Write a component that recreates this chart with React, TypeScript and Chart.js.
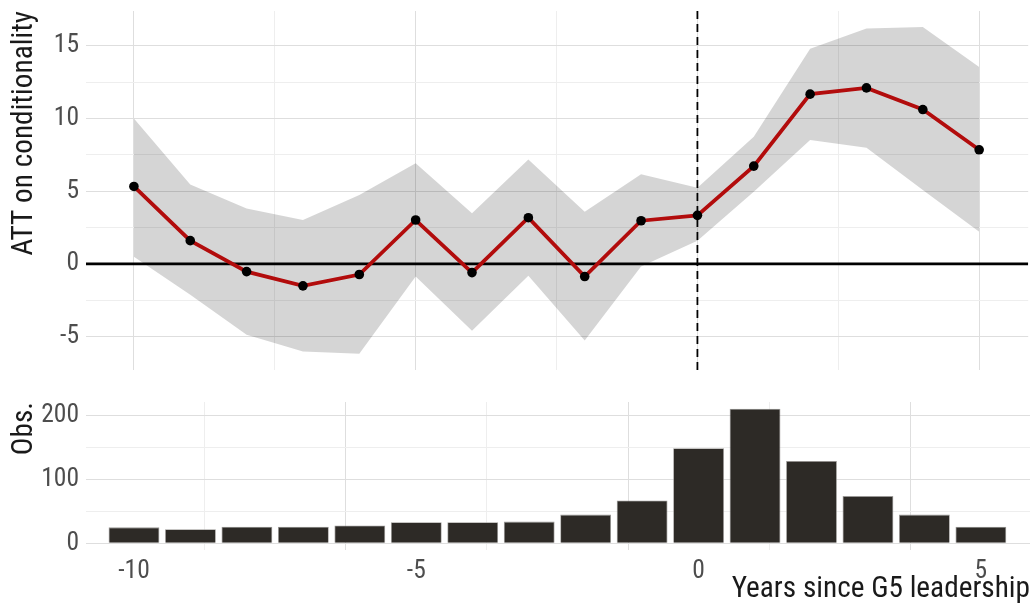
import React, { useEffect, useRef } from "react";
import { Chart, registerables } from "chart.js";

Chart.register(...registerables);

// ---------- data ----------
const years = [-10, -9, -8, -7, -6, -5, -4, -3, -2, -1, 0, 1, 2, 3, 4, 5];
const att = [5.33, 1.6, -0.53, -1.51, -0.73, 3.02, -0.6, 3.18, -0.87, 2.97, 3.34, 6.73, 11.68, 12.11, 10.62, 7.85];
const ciUpper = [10.0, 5.47, 3.82, 3.02, 4.74, 6.92, 3.48, 7.19, 3.59, 6.16, 5.24, 8.74, 14.81, 16.19, 16.3, 13.55];
const ciLower = [0.5, -2.13, -4.88, -6.02, -6.18, -0.87, -4.6, -0.82, -5.27, -0.18, 1.6, 4.97, 8.52, 7.99, 5.08, 2.22];
const obs = [25, 22, 26, 26, 28, 33, 33, 34, 45, 67, 149, 211, 129, 74, 45, 26];

const xTicks = [-10, -7.5, -5, -2.5, 0, 2.5, 5];
const attTicks = [-5, -2.5, 0, 2.5, 5, 7.5, 10, 12.5, 15];
const obsTicks = [0, 50, 100, 150, 200];

const X_MIN = -10.85;
const X_MAX = 5.87;
const ATT_MIN = -7.3;
const ATT_MAX = 17.4;
const OBS_MIN = -10.5;
const OBS_MAX = 221.5;
const TREATMENT_YEAR = 0;
const REFERENCE_ATT = 0;

// ---------- style ----------
const FONT = "'Roboto Condensed', 'Liberation Sans Narrow', 'DejaVu Sans Condensed', Roboto, sans-serif";
const TICK_COLOR = "#4d4d4d";
const TITLE_COLOR = "#1a1a1a";
const MAJOR = "#dedede";
const MINOR = "#eeeeee";
const TICK_SIZE = 25.5;
const TITLE_SIZE = 29.3;

const gridColor = (major: number) => (ctx: any) =>
  ctx.tick && Math.abs(ctx.tick.value % major) < 1e-9 ? MAJOR : MINOR;

const setTicks = (vals: number[]) => (axis: any) => {
  axis.ticks = vals.map((v) => ({ value: v }));
};

const fixSize = (w: number | null, h: number | null) => (a: any) => {
  if (w !== null) a.width = w;
  if (h !== null) a.height = h;
  a.paddingTop = 0;
  a.paddingBottom = 0;
  a.paddingLeft = 0;
  a.paddingRight = 0;
};

export default function App() {
  const topRef = useRef<HTMLCanvasElement | null>(null);
  const botRef = useRef<HTMLCanvasElement | null>(null);

  useEffect(() => {
    const xy = (ys: number[]) => years.map((x, i) => ({ x, y: ys[i] }));

    const top = new Chart(topRef.current!, {
      type: "line",
      data: {
        datasets: [
          {
            label: "upper",
            data: xy(ciUpper),
            borderWidth: 0,
            borderColor: "rgba(0,0,0,0)",
            pointRadius: 0,
            fill: "+1",
            backgroundColor: "rgba(0,0,0,0.165)",
            order: 10,
          },
          {
            label: "lower",
            data: xy(ciLower),
            borderWidth: 0,
            borderColor: "rgba(0,0,0,0)",
            pointRadius: 0,
            fill: false,
            order: 10,
          },
          {
            label: "zero",
            data: [
              { x: X_MIN, y: REFERENCE_ATT },
              { x: X_MAX, y: REFERENCE_ATT },
            ],
            borderColor: "#000",
            borderWidth: 2.6,
            pointRadius: 0,
            fill: false,
            order: 5,
          },
          {
            label: "treatment",
            data: [
              { x: TREATMENT_YEAR, y: ATT_MIN },
              { x: TREATMENT_YEAR, y: ATT_MAX },
            ],
            borderColor: "#000",
            borderWidth: 1.8,
            borderDash: [8, 5],
            pointRadius: 0,
            fill: false,
            order: 4,
          },
          {
            label: "ATT",
            data: xy(att),
            borderColor: "#b20c0c",
            borderWidth: 3.8,
            pointRadius: 4.8,
            pointBackgroundColor: "#000",
            pointBorderColor: "#000",
            pointBorderWidth: 0,
            fill: false,
            order: 1,
          },
        ],
      } as any,
      options: {
        animation: false,
        responsive: false,
        maintainAspectRatio: false,
        layout: { padding: { top: 11, right: 3, left: 0, bottom: 10 } },
        plugins: { legend: { display: false }, tooltip: { enabled: false } },
        scales: {
          x: {
            type: "linear",
            min: X_MIN,
            max: X_MAX,
            afterBuildTicks: setTicks(xTicks),
            afterFit: fixSize(null, 0),
            ticks: { display: false },
            grid: { color: gridColor(5), lineWidth: 1, drawTicks: false },
            border: { display: false },
          },
          y: {
            type: "linear",
            min: ATT_MIN,
            max: ATT_MAX,
            afterBuildTicks: setTicks(attTicks),
            afterFit: fixSize(86, null),
            ticks: {
              color: TICK_COLOR,
              font: { family: FONT, size: TICK_SIZE },
              padding: 7,
              callback: (v: any) => (Number(v) % 5 === 0 ? String(v) : ""),
            },
            grid: { color: gridColor(5), lineWidth: 1, drawTicks: false },
            border: { display: false },
            title: {
              display: true,
              text: "ATT on conditionality",
              align: "end",
              color: TITLE_COLOR,
              font: { family: FONT, size: TITLE_SIZE },
              padding: { top: 7.5, bottom: 0 },
            },
          },
        },
      } as any,
    });

    const bot = new Chart(botRef.current!, {
      type: "bar",
      data: {
        datasets: [
          {
            label: "Obs.",
            data: xy(obs),
            backgroundColor: "#2d2a26",
            borderColor: "#9a9896",
            borderWidth: 0.8,
            barPercentage: 0.9,
            categoryPercentage: 1,
          },
        ],
      } as any,
      options: {
        animation: false,
        responsive: false,
        maintainAspectRatio: false,
        layout: { padding: { top: 22, right: 3, left: 0, bottom: 0 } },
        plugins: { legend: { display: false }, tooltip: { enabled: false } },
        scales: {
          x: {
            type: "linear",
            min: X_MIN,
            max: X_MAX,
            offset: false,
            afterBuildTicks: setTicks(xTicks),
            afterFit: fixSize(null, 57),
            ticks: {
              color: TICK_COLOR,
              font: { family: FONT, size: TICK_SIZE },
              padding: 6,
              maxRotation: 0,
              autoSkip: false,
              callback: (v: any) => (Number(v) % 5 === 0 ? String(v) : ""),
            },
            grid: { color: gridColor(5), lineWidth: 1, drawTicks: false },
            border: { display: false },
            title: {
              display: true,
              text: "Years since G5 leadership",
              align: "end",
              color: TITLE_COLOR,
              font: { family: FONT, size: TITLE_SIZE },
              padding: { top: 0, bottom: 0 },
            },
          },
          y: {
            type: "linear",
            min: OBS_MIN,
            max: OBS_MAX,
            afterBuildTicks: setTicks(obsTicks),
            afterFit: fixSize(86, null),
            ticks: {
              color: TICK_COLOR,
              font: { family: FONT, size: TICK_SIZE },
              padding: 7,
              callback: (v: any) => (Number(v) % 100 === 0 ? String(v) : ""),
            },
            grid: { color: gridColor(100), lineWidth: 1, drawTicks: false },
            border: { display: false },
            title: {
              display: true,
              text: "Obs.",
              align: "end",
              color: TITLE_COLOR,
              font: { family: FONT, size: TITLE_SIZE },
              padding: { top: 7.5, bottom: 0 },
            },
          },
        },
      } as any,
    });

    return () => {
      top.destroy();
      bot.destroy();
    };
  }, []);

  return (
    <div style={{ position: "absolute", left: 0, top: 0, width: 1033, height: 607, background: "#fff" }}>
      <canvas ref={topRef} width={1033} height={380} style={{ position: "absolute", left: 0, top: 0, display: "block" }} />
      <canvas ref={botRef} width={1033} height={227} style={{ position: "absolute", left: 0, top: 380, display: "block" }} />
    </div>
  );
}
